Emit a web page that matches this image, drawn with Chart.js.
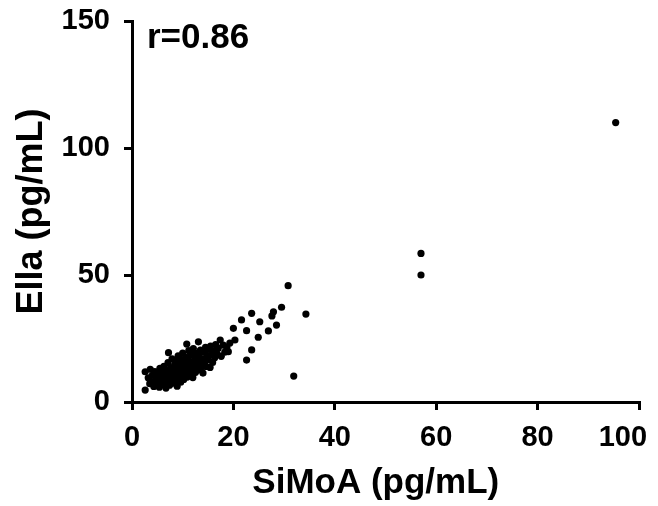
<!DOCTYPE html>
<html lang="en">
<head>
<meta charset="UTF-8">
<title>SiMoA vs Ella</title>
<script src="https://cdn.jsdelivr.net/npm/chart.js"></script>
<style>
  body { margin: 0; background: #fff; }
  #wrap { width: 658px; height: 506px; }
</style>
</head>
<body>
<div id="wrap">
  <canvas id="scatter" width="658" height="506"></canvas>
</div>
<script>
// x = SiMoA (pg/mL), y = Ella (pg/mL)
var points = [
  [2.6,4.7],[2.6,11.9],[3.6,12.9],[3.2,9.5],[3.8,8.0],[4.0,10.5],[3.5,7.2],[4.3,6.1],[4.5,12.0],[4.8,9.0],
  [5.0,7.5],[5.2,10.8],[5.4,5.8],[5.5,13.2],[5.7,8.6],[5.9,11.5],[6.0,6.8],[6.1,9.7],[6.3,14.0],[6.4,7.9],
  [6.6,12.3],[6.7,5.5],[6.8,10.4],
  [7.0,8.8],[7.1,15.5],[7.2,19.4],[7.3,11.6],[7.4,6.6],[7.6,13.4],[7.7,9.4],[7.9,17.0],[8.0,7.4],[8.1,12.1],
  [8.2,10.2],[8.4,14.6],[8.5,8.3],[8.6,16.2],[8.8,11.0],[8.9,6.2],
  [9.0,13.0],[9.1,18.2],[9.2,9.6],[9.3,15.0],[9.5,11.8],[9.6,7.8],[9.7,16.8],[9.8,13.9],[9.9,10.6],[10.0,19.3],
  [10.1,12.6],[10.2,8.9],[10.3,15.8],[10.4,14.2],[10.6,11.2],[10.7,17.6],[10.8,22.8],[10.9,9.8],
  [11.0,13.5],[11.1,16.4],[11.2,20.2],[11.3,10.8],[11.5,14.8],[11.6,12.2],[11.7,18.4],[11.9,15.6],[12.0,9.6],
  [12.1,21.0],[12.2,13.2],[12.4,17.2],[12.5,11.6],[12.6,19.2],[12.8,14.4],[12.9,16.0],
  [13.1,23.7],[13.0,12.5],[13.2,18.0],[13.4,15.2],[13.5,20.4],[13.7,13.8],[13.8,17.0],[14.0,11.4],[14.1,19.6],
  [14.3,15.8],[14.5,21.5],[14.6,14.0],[14.8,18.4],
  [15.0,16.6],[15.2,20.8],[15.4,13.6],[15.5,22.0],[15.7,18.6],[15.9,15.6],[16.1,20.0],[16.3,17.4],[16.5,22.6],[16.8,19.0],
  [17.0,21.2],[17.4,24.4],[17.6,18.0],[18.0,22.4],[18.3,19.6],[18.7,21.6],[19.0,19.8],[19.3,23.2],[20.0,29.0],[20.3,24.4],
  [21.6,32.3],[22.6,28.1],[22.6,16.5],[23.6,20.5],[23.6,34.9],[24.9,25.5],[25.2,31.6],[26.9,28.0],[27.6,33.9],
  [27.9,35.5],[28.5,30.3],[29.5,37.3],[30.8,45.8],[31.9,10.2],[34.3,34.6],
  [57.0,58.5],[57.0,50.0],[95.4,110.0]
];
var xTicks = [0, 20, 40, 60, 80, 100];
var yTicks = [0, 50, 100, 150];
var xTitle = 'SiMoA (pg/mL)';
var yTitle = 'Ella (pg/mL)';
var rLabel = 'r=0.86';

var FONT = "'Liberation Sans', Arial, sans-serif";

// corner annotation with the correlation
var rText = {
  id: 'rText',
  afterDraw: function (chart) {
    var ctx = chart.ctx;
    ctx.save();
    ctx.font = 'bold 35px ' + FONT;
    ctx.fillStyle = '#000';
    ctx.textBaseline = 'alphabetic';
    ctx.fillText(rLabel, chart.chartArea.left + 15, chart.chartArea.top + 27);
    ctx.restore();
  }
};

var axisLine = { color: '#000', width: 3 };
var tickMarks = { drawOnChartArea: false, color: '#000', lineWidth: 3, tickLength: 8 };

new Chart(document.getElementById('scatter').getContext('2d'), {
  type: 'scatter',
  data: {
    datasets: [{
      data: points.map(function (p) { return { x: p[0], y: p[1] }; }),
      backgroundColor: '#000',
      borderWidth: 0,
      pointRadius: 3.6,
      pointHoverRadius: 3.6
    }]
  },
  options: {
    responsive: false,
    animation: false,
    devicePixelRatio: 1,
    layout: { padding: { left: 0, top: 21, right: 19, bottom: 0 } },
    plugins: { legend: { display: false }, tooltip: { enabled: false } },
    scales: {
      x: {
        type: 'linear',
        min: 0, max: 100,
        border: axisLine,
        grid: tickMarks,
        afterBuildTicks: function (s) { s.ticks = xTicks.map(function (v) { return { value: v }; }); },
        afterFit: function (s) { s.height = 104; s.paddingLeft = 0; s.paddingRight = 0; },
        ticks: {
          color: '#000', padding: 11, maxRotation: 0,
          font: { family: FONT, size: 29, weight: 'bold' },
          // last label sits a bit left so it stays inside the picture
          callback: function (v) { return v === 100 ? '100    ' : String(v); }
        },
        title: { display: true, text: xTitle + '  ', color: '#000', padding: { top: 0, bottom: 2 },
                 font: { family: FONT, size: 35, weight: 'bold' } }
      },
      y: {
        type: 'linear',
        min: 0, max: 150,
        border: axisLine,
        grid: tickMarks,
        afterBuildTicks: function (s) { s.ticks = yTicks.map(function (v) { return { value: v }; }); },
        afterFit: function (s) { s.width = 132; s.paddingTop = 0; s.paddingBottom = 0; },
        ticks: { color: '#000', padding: 14, font: { family: FONT, size: 29, weight: 'bold' } },
        title: { display: true, text: yTitle, color: '#000', padding: { top: 10, bottom: 0 },
                 font: { family: FONT, size: 36, weight: 'bold' } }
      }
    }
  },
  plugins: [rText]
});
</script>
</body>
</html>
